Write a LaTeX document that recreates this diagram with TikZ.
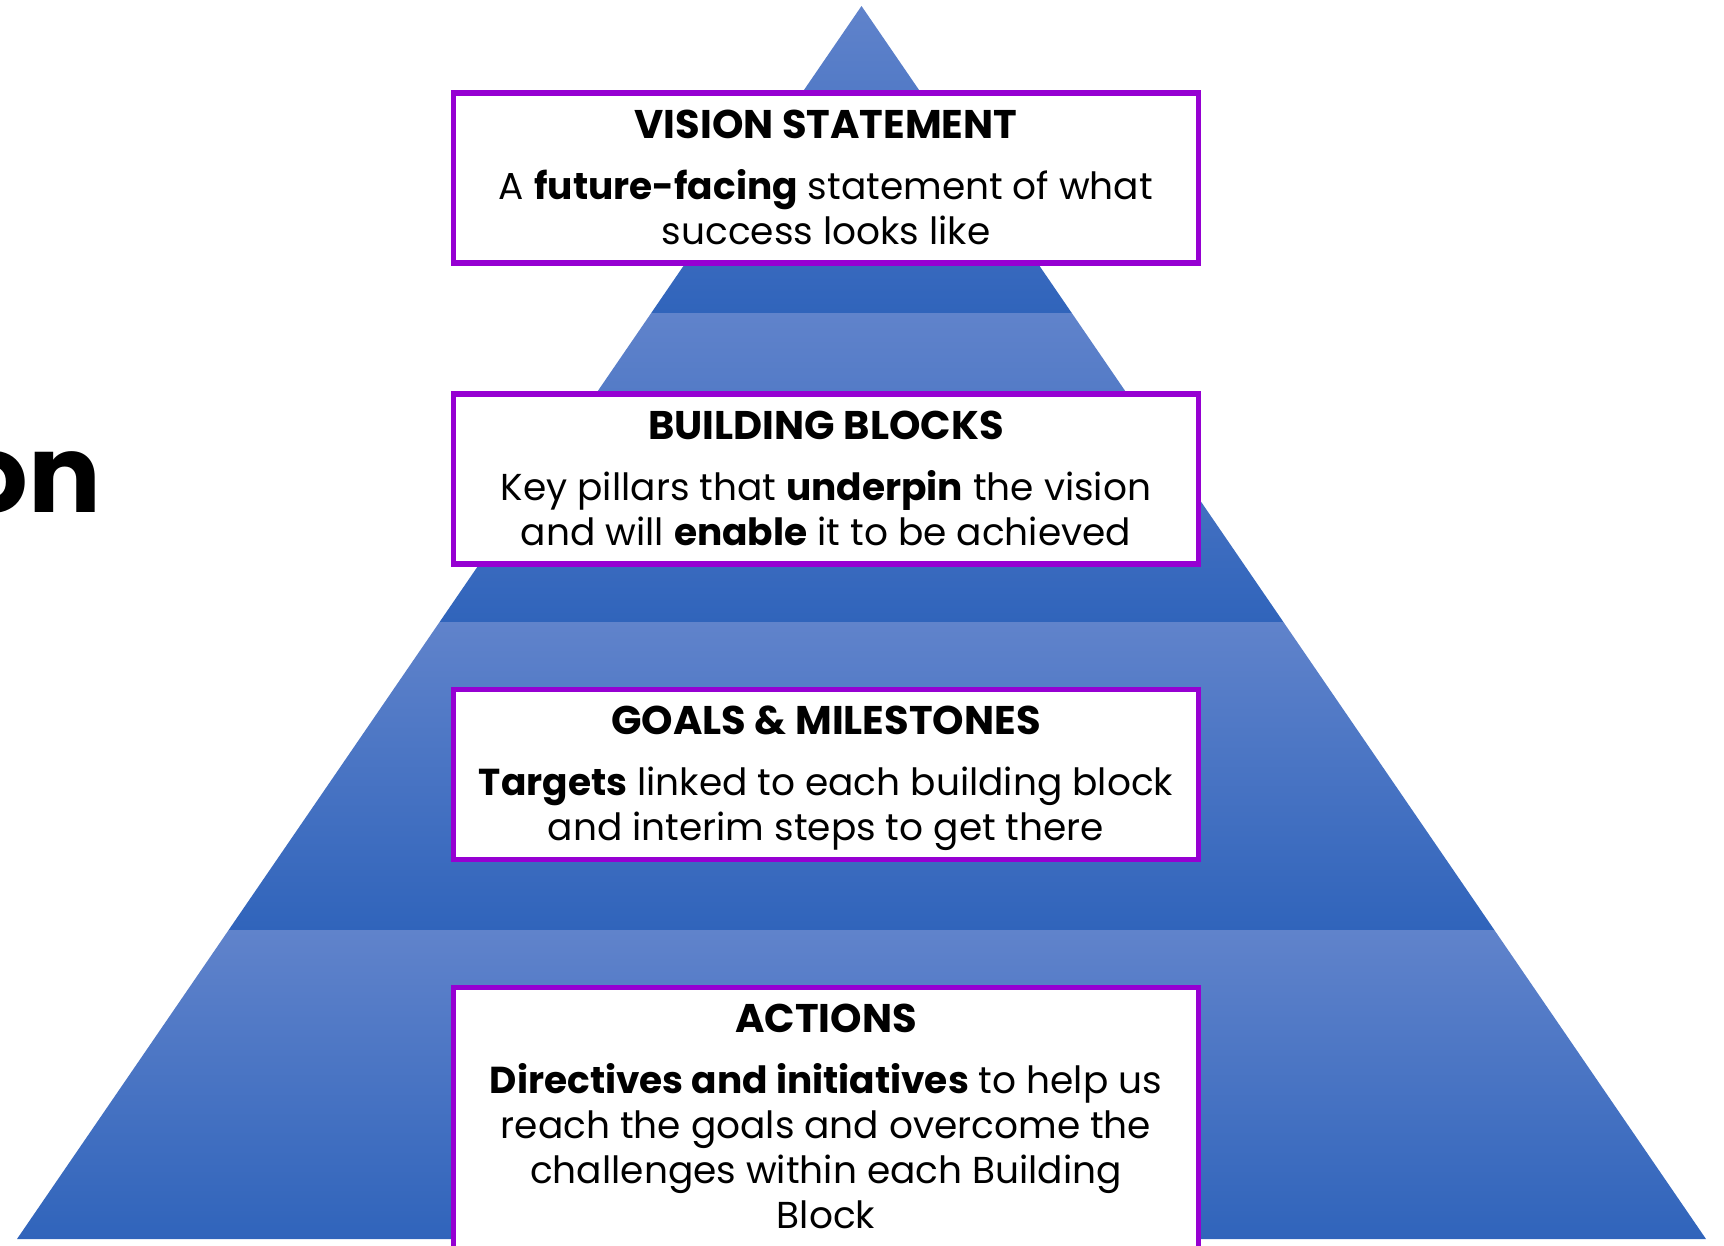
\documentclass[tikz,border=0pt]{standalone}
\usepackage{fontspec}
\setmainfont{Poppins}
\usetikzlibrary{positioning}
\definecolor{bandtop}{RGB}{96,131,203}
\definecolor{bandbot}{RGB}{48,100,187}
\definecolor{boxpurple}{RGB}{150,0,210}

\begin{document}
\begin{tikzpicture}[x=1pt,y=-1pt,
    band/.style={top color=bandtop,bottom color=bandbot},
    box/.style={draw=boxpurple,line width=5.5pt,fill=white,minimum width=745pt,
      minimum height=170pt,inner sep=0pt,outer sep=0pt},
    heading/.style={font=\fontsize{40}{45}\selectfont\bfseries,inner sep=0pt},
    blurb/.style={font=\fontsize{37.5}{45}\selectfont,align=center,inner sep=0pt}]
  \clip (0,0) rectangle (1724,1245);
  % pyramid, four bands
  \foreach \ya/\yb in {6/313,313/622,622/930,930/1239}
    \shade[band] ({861.5-(\ya-6)*0.6849},\ya) -- ({861.5+(\ya-6)*0.6849},\ya)
      -- ({861.5+(\yb-6)*0.6849},\yb) -- ({861.5-(\yb-6)*0.6849},\yb) -- cycle;

  \node[font=\fontsize{108}{108}\selectfont\bfseries,anchor=base east,inner sep=0pt]
    (headline) at (101,512) {on};

  % boxes
  \node[box,anchor=north] (vision) at (826,93) {};
  \node[box,below=131pt of vision] (blocks) {};
  \node[box,below=125.5pt of blocks] (goals) {};
  \node[box,below=128pt of goals,minimum height=280pt] (actions) {};

  % texts (base of a blurb is its last line)
  \node[heading,below=45pt of vision.north,anchor=base] (visiontitle) {VISION STATEMENT};
  \node[blurb,below=151pt of vision.north,anchor=base] (visionblurb)
    {A \textbf{future-facing} statement of what\\success looks like};
  \node[heading,below=45pt of blocks.north,anchor=base] (blockstitle) {BUILDING BLOCKS};
  \node[blurb,below=151pt of blocks.north,anchor=base] (blocksblurb)
    {Key pillars that \textbf{underpin} the vision\\and will \textbf{enable} it to be achieved};
  \node[heading,below=45pt of goals.north,anchor=base] (goalstitle) {GOALS \& MILESTONES};
  \node[blurb,below=151pt of goals.north,anchor=base] (goalsblurb)
    {\textbf{Targets} linked to each building block\\and interim steps to get there};
  \node[heading,below=45pt of actions.north,anchor=base] (actionstitle) {ACTIONS};
  \node[blurb,below=241pt of actions.north,anchor=base] (actionsblurb)
    {\textbf{Directives and initiatives} to help us\\reach the goals and overcome the\\challenges within each Building\\Block};
\end{tikzpicture}
\end{document}
